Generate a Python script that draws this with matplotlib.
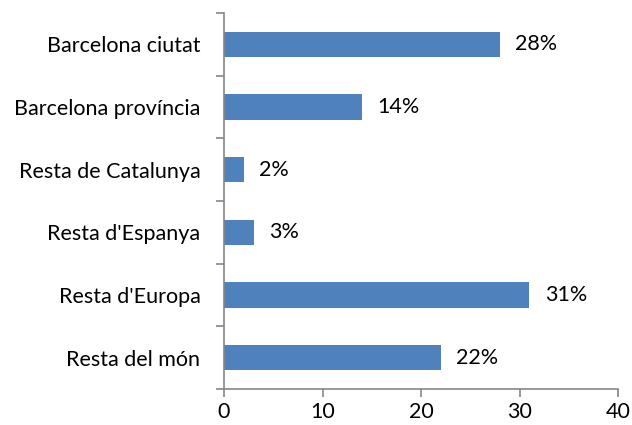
import matplotlib
matplotlib.use("Agg")
import matplotlib.pyplot as plt
import numpy as np

categories = ["Barcelona ciutat", "Barcelona província", "Resta de Catalunya",
              "Resta d'Espanya", "Resta d'Europa", "Resta del món"]
values = [28, 14, 2, 3, 31, 22]
labels = ["28%", "14%", "2%", "3%", "31%", "22%"]
xticks = [0, 10, 20, 30, 40]

plt.rcParams['font.family'] = ['Lato', 'DejaVu Sans']
FS = 15.5
fig = plt.figure(figsize=(6.32, 4.25), dpi=100)
ax = fig.add_axes([224/632, 1-389/425, (618-224)/632, (389-13)/425])

y = np.arange(len(categories))
ax.barh(y, values, height=0.4, color="#4F81BD", zorder=2)
for yi, v, lab in zip(y, values, labels):
    ax.annotate(lab, (v, yi), xytext=(11, 0), textcoords="offset points",
                va="center", ha="left", fontsize=FS, color="black")

ax.set_xlim(0, 40)
ax.set_ylim(len(categories)-0.5, -0.5)
ax.set_xticks(xticks)
ax.set_yticks(y)
ax.set_yticklabels(categories)
ax.set_yticks(np.arange(-0.5, len(categories)), minor=True)
ax.tick_params(axis='y', which='major', length=0, pad=17, labelsize=FS)
ax.tick_params(axis='y', which='minor', length=6, width=1.2, color="#868686")
ax.tick_params(axis='x', which='major', length=6, width=1.2, color="#868686", labelsize=FS, pad=3)
for s in ["top", "right"]:
    ax.spines[s].set_visible(False)
for s in ["left", "bottom"]:
    ax.spines[s].set_color("#868686")
    ax.spines[s].set_linewidth(1.2)

fig.savefig("out.png", dpi=100)
